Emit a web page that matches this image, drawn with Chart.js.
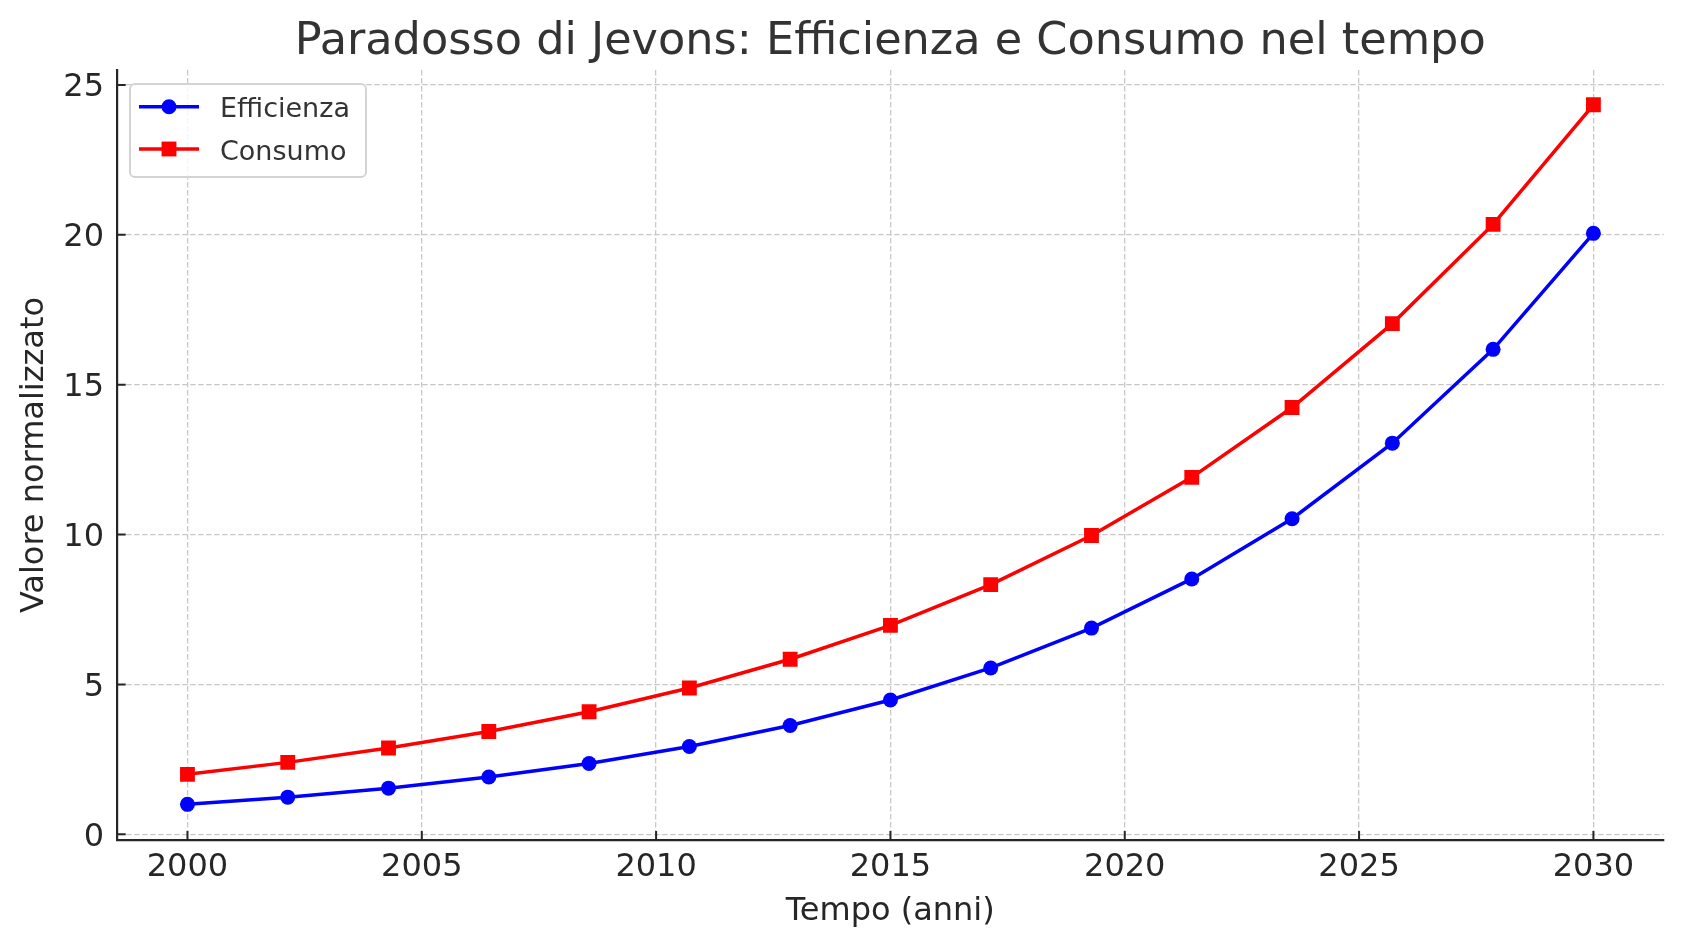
<!DOCTYPE html>
<html lang="it">
<head>
<meta charset="utf-8">
<title>Paradosso di Jevons</title>
<script src="https://cdn.jsdelivr.net/npm/chart.js@4.4.1/dist/chart.umd.min.js"></script>
<style>
  html, body { margin: 0; padding: 0; background: #fff; }
  #wrap { width: 1686px; height: 947px; }
</style>
</head>
<body>
<div id="wrap"><canvas id="jevonsChart" width="1686" height="947"></canvas></div>
<script>
// valori (15 punti tra 2000 e 2030)
const anni = [2000, 2002.14, 2004.29, 2006.43, 2008.57, 2010.71, 2012.86, 2015,
              2017.14, 2019.29, 2021.43, 2023.57, 2025.71, 2027.86, 2030];
const efficienza = [1.0, 1.24, 1.54, 1.91, 2.36, 2.93, 3.63, 4.48,
                    5.55, 6.88, 8.52, 10.53, 13.05, 16.18, 20.05];
const consumo = [2.0, 2.4, 2.88, 3.43, 4.09, 4.88, 5.84, 6.97,
                 8.33, 9.97, 11.91, 14.24, 17.04, 20.35, 24.34];
const xTicks = [2000, 2005, 2010, 2015, 2020, 2025, 2030];
const yTicks = [0, 5, 10, 15, 20, 25];

const FONT = 'DejaVu Sans';
const INK = '#262626';

function toPoints(ys) {
    return anni.map((a, i) => ({ x: a, y: ys[i] }));
}

// tacche rivolte verso l'interno, come in matplotlib
const inwardTicks = {
    id: 'inwardTicks',
    afterDatasetsDraw(chart) {
        const { ctx, chartArea, scales: { x, y } } = chart;
        ctx.save();
        ctx.strokeStyle = INK;
        ctx.lineWidth = 2;
        ctx.beginPath();
        xTicks.forEach(v => {
            const px = x.getPixelForValue(v);
            ctx.moveTo(px, chartArea.bottom);
            ctx.lineTo(px, chartArea.bottom - 9);
        });
        yTicks.forEach(v => {
            const py = y.getPixelForValue(v);
            ctx.moveTo(chartArea.left, py);
            ctx.lineTo(chartArea.left + 9, py);
        });
        ctx.stroke();
        ctx.restore();
    }
};

// legenda con linea + marcatore
const lineLegend = {
    id: 'lineLegend',
    afterDraw(chart) {
        const ctx = chart.ctx;
        ctx.save();
        ctx.beginPath();
        ctx.roundRect(130, 84, 236, 93, 5);
        ctx.fillStyle = 'rgba(255,255,255,0.8)';
        ctx.fill();
        ctx.strokeStyle = '#d4d4d4';
        ctx.lineWidth = 2;
        ctx.stroke();

        chart.data.datasets.forEach((ds, i) => {
            const cy = 106.7 + i * 42.3;
            ctx.strokeStyle = ds.borderColor;
            ctx.lineWidth = ds.borderWidth;
            ctx.beginPath();
            ctx.moveTo(139, cy);
            ctx.lineTo(199, cy);
            ctx.stroke();

            ctx.fillStyle = ds.pointBackgroundColor;
            ctx.beginPath();
            if (ds.pointStyle === 'rect') {
                const s = ds.pointRadius * Math.SQRT1_2;
                ctx.rect(169 - s, cy - s, 2 * s, 2 * s);
            } else {
                ctx.arc(169, cy, ds.pointRadius, 0, Math.PI * 2);
            }
            ctx.fill();

            ctx.fillStyle = '#333333';
            ctx.font = '27px "' + FONT + '"';
            ctx.textBaseline = 'alphabetic';
            ctx.textAlign = 'left';
            ctx.fillText(ds.label, 220, cy + 10.7);
        });
        ctx.restore();
    }
};

const ctx = document.getElementById('jevonsChart').getContext('2d');
const jevonsChart = new Chart(ctx, {
    type: 'line',
    data: {
        datasets: [{
            label: 'Efficienza',
            data: toPoints(efficienza),
            borderColor: '#0000ff',
            backgroundColor: '#0000ff',
            pointBackgroundColor: '#0000ff',
            borderWidth: 3.5,
            pointStyle: 'circle',
            pointRadius: 7.5,
            pointBorderWidth: 0,
            tension: 0
        }, {
            label: 'Consumo',
            data: toPoints(consumo),
            borderColor: '#ff0000',
            backgroundColor: '#ff0000',
            pointBackgroundColor: '#ff0000',
            borderWidth: 3.5,
            pointStyle: 'rect',
            pointRadius: 10.5,
            pointBorderWidth: 0,
            tension: 0
        }]
    },
    options: {
        responsive: false,
        devicePixelRatio: 1,
        animation: false,
        layout: { padding: { left: 0, right: 22.3, top: 0, bottom: 0 } },
        plugins: {
            legend: { display: false },
            tooltip: { enabled: false },
            title: {
                display: true,
                text: 'Paradosso di Jevons: Efficienza e Consumo nel tempo',
                color: '#333333',
                fullSize: false,
                font: { family: FONT, size: 44.6, weight: 'normal' },
                padding: { top: 15.3, bottom: 1.2 }
            }
        },
        scales: {
            x: {
                type: 'linear',
                min: 1998.49,
                max: 2031.5,
                afterBuildTicks: scale => { scale.ticks = xTicks.map(v => ({ value: v })); },
                afterFit: scale => { scale.height = 107; },
                grid: { color: '#c8c8c8', lineWidth: 1.3, drawTicks: false },
                border: { display: true, color: INK, width: 2.2, dash: [5.5, 2.5] },
                ticks: {
                    color: INK,
                    padding: 8,
                    maxRotation: 0,
                    font: { family: FONT, size: 32 },
                    callback: v => String(v)
                },
                title: {
                    display: true,
                    text: 'Tempo (anni)',
                    color: INK,
                    font: { family: FONT, size: 32 },
                    padding: { top: 0, bottom: 16 }
                }
            },
            y: {
                type: 'linear',
                min: -0.19,
                max: 25.5,
                afterBuildTicks: scale => { scale.ticks = yTicks.map(v => ({ value: v })); },
                afterFit: scale => { scale.width = 116.7; },
                grid: { color: '#c8c8c8', lineWidth: 1.3, drawTicks: false },
                border: { display: true, color: INK, width: 2.2, dash: [5.5, 2.5] },
                ticks: {
                    color: INK,
                    padding: 12.7,
                    labelOffset: 3,
                    font: { family: FONT, size: 32 },
                    callback: v => String(v)
                },
                title: {
                    display: true,
                    text: 'Valore normalizzato',
                    color: INK,
                    font: { family: FONT, size: 32 },
                    padding: { top: 15, bottom: 0 }
                }
            }
        }
    },
    plugins: [inwardTicks, lineLegend]
});
</script>
</body>
</html>
